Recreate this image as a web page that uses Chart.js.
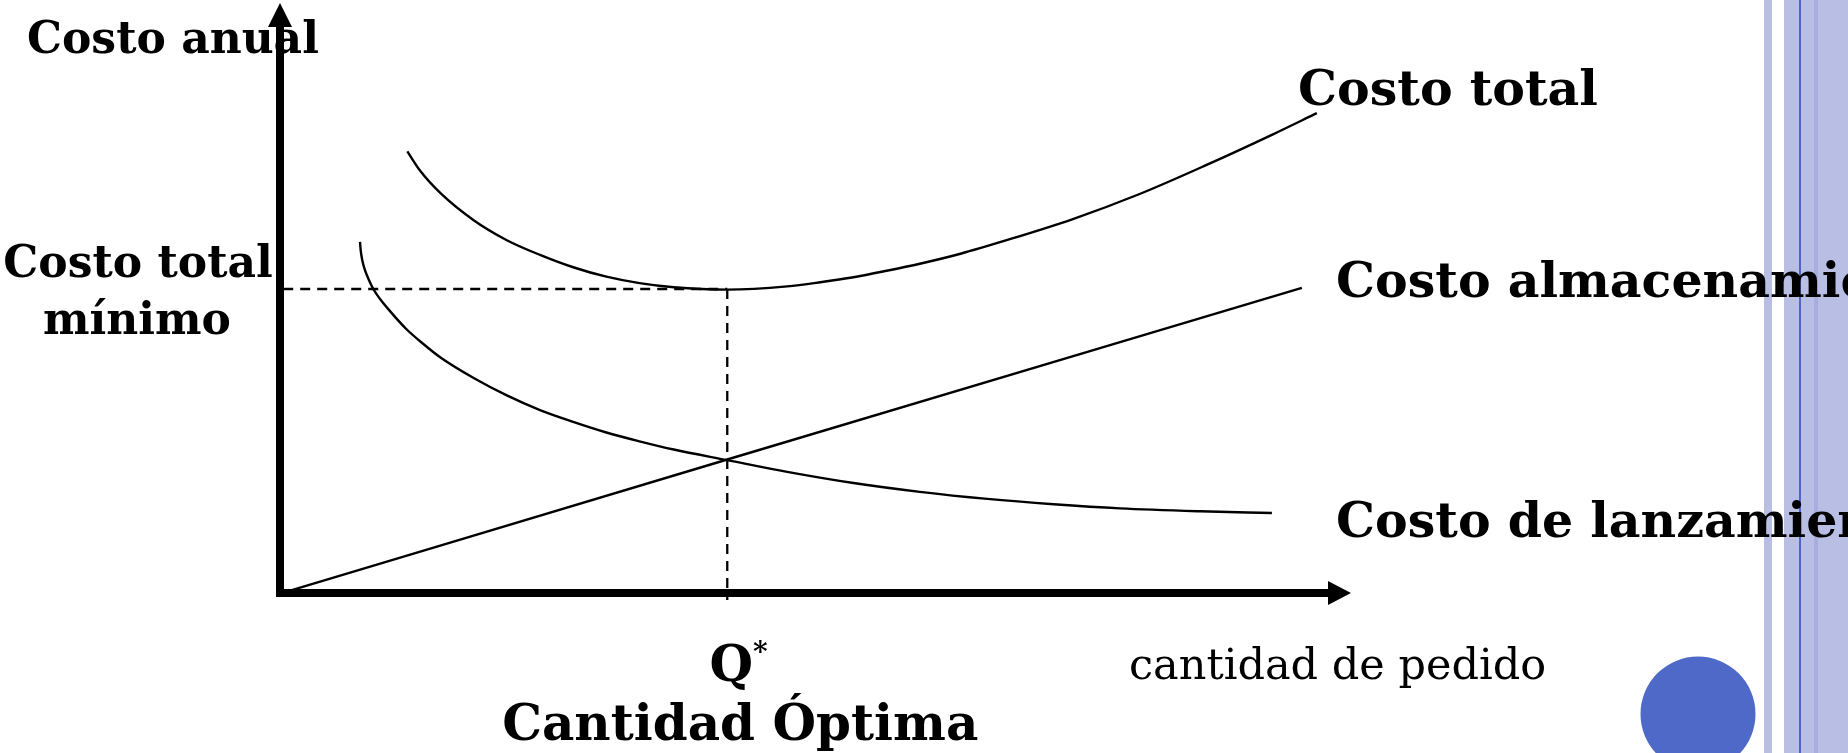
<!DOCTYPE html>
<html lang="es">
<head>
<meta charset="utf-8">
<title>Cantidad óptima de pedido</title>
<script src="https://cdn.jsdelivr.net/npm/chart.js@4.4.1/dist/chart.umd.min.js"></script>
<style>
  html, body { margin: 0; padding: 0; background: #ffffff; overflow: hidden; }
  #chart { display: block; }
</style>
</head>
<body>
<canvas id="chart" width="1848" height="753"></canvas>
<script>
// values (x: order quantity, y: annual cost, both 0..100)
const totalCostX = [11.9, 13.1, 15.0, 18.1, 21.2, 24.3, 27.4, 30.5, 33.6, 36.8, 41.8, 47.4, 50.5, 53.6, 56.7, 59.8, 63.6, 67.9, 74.1, 80.4, 86.6, 92.8, 96.9];
const totalCostY = [75.1, 71.8, 68.0, 63.4, 60.0, 57.5, 55.4, 53.8, 52.7, 52.0, 51.6, 52.15, 52.85, 53.7, 54.8, 56.0, 57.7, 60.0, 63.6, 67.9, 72.8, 78.0, 81.6];

const orderCostX = [7.48, 7.54, 7.69, 7.94, 8.32, 8.72, 9.35, 10.3, 11.8, 13.4, 15.0, 18.1, 21.2, 24.3, 27.4, 30.5, 33.6, 36.8, 41.8, 47.4, 53.6, 59.8, 66.1, 72.3, 78.5, 86.0, 92.7];
const orderCostY = [59.7, 58.3, 56.6, 54.9, 53.2, 51.7, 50.0, 47.9, 44.9, 42.35, 40.05, 36.56, 33.6, 31.1, 29.1, 27.3, 25.8, 24.4, 22.6, 20.6, 18.7, 17.2, 16.0, 15.1, 14.4, 13.9, 13.6];

const holdingCostX = [1.1, 41.8, 95.5];
const holdingCostY = [0.5, 22.7, 51.9];

const Q_STAR = 41.8;
const MIN_TOTAL_COST = 51.7;

const seriesLabels = ['Costo total', 'Costo almacenamiento', 'Costo de lanzamiento'];
const yAxisTitle = 'Costo anual';
const xAxisTitle = 'cantidad de pedido';
const minCostLabel = ['Costo total', 'mínimo'];
const qStarLabel = ['Q', '*', 'Cantidad Óptima'];

const INK = '#000000';
const CURVE_WIDTH = 2.4;
const AXIS_WIDTH = 8;
const SERIF = '"DejaVu Serif", "Liberation Serif", serif';

/**
 * Zips two arrays into {x, y} points.
 * @param {number[]} xs
 * @param {number[]} ys
 * @return {Object[]}
 */
function toPoints(xs, ys) {
  return xs.map((x, i) => ({x: x, y: ys[i]}));
}

function curve(label, xs, ys) {
  return {
    label: label,
    data: toPoints(xs, ys),
    borderColor: INK,
    borderWidth: CURVE_WIDTH,
    pointRadius: 0,
    cubicInterpolationMode: 'monotone',
    fill: false,
  };
}

function guide(label, xs, ys) {
  return {
    label: label,
    data: toPoints(xs, ys),
    borderColor: INK,
    borderWidth: 2.3,
    borderDash: [10, 7],
    pointRadius: 0,
    tension: 0,
    clip: false,
  };
}

// slide decoration on the right edge (stripes + circle), drawn behind everything
const slideBackground = {
  id: 'slideBackground',
  beforeDraw(chart) {
    const c = chart.ctx;
    c.save();
    c.fillStyle = '#b9bfe4';
    c.fillRect(1764, 0, 8, chart.height);
    c.fillRect(1784, 0, 64, chart.height);
    c.fillStyle = '#a7aedd';
    c.fillRect(1814, 0, 4, chart.height);
    c.fillStyle = '#4e64c6';
    c.fillRect(1799, 0, 2, chart.height);
    c.fillStyle = '#4f69c8';
    c.beginPath();
    c.arc(1698, 714, 57.5, 0, Math.PI * 2);
    c.fill();
    c.restore();
  },
};

// the two thick axes with arrow heads
const arrowAxes = {
  id: 'arrowAxes',
  afterDatasetsDraw(chart) {
    const c = chart.ctx;
    const xs = chart.scales.x;
    const ys = chart.scales.y;
    const x0 = xs.getPixelForValue(0);
    const y0 = ys.getPixelForValue(0);
    const xEnd = xs.getPixelForValue(100);
    const yTop = ys.getPixelForValue(100);
    c.save();
    c.strokeStyle = INK;
    c.fillStyle = INK;
    c.lineWidth = AXIS_WIDTH;
    c.lineCap = 'butt';
    c.beginPath();
    c.moveTo(x0, y0 + AXIS_WIDTH / 2);
    c.lineTo(x0, yTop + 18);
    c.moveTo(x0 - AXIS_WIDTH / 2, y0);
    c.lineTo(xEnd - 18, y0);
    c.stroke();
    c.beginPath();
    c.moveTo(x0, yTop - 2);
    c.lineTo(x0 - 12, yTop + 22);
    c.lineTo(x0 + 12, yTop + 22);
    c.closePath();
    c.moveTo(xEnd + 1, y0);
    c.lineTo(xEnd - 22, y0 - 12);
    c.lineTo(xEnd - 22, y0 + 12);
    c.closePath();
    c.fill();
    c.restore();
  },
};

// text annotations, anchored to the scales and the curve ends
const annotations = {
  id: 'annotations',
  afterDraw(chart) {
    const c = chart.ctx;
    const xs = chart.scales.x;
    const ys = chart.scales.y;
    const x0 = xs.getPixelForValue(0);
    const qx = xs.getPixelForValue(Q_STAR);
    const minY = ys.getPixelForValue(MIN_TOTAL_COST);
    c.save();
    c.fillStyle = INK;
    c.textBaseline = 'alphabetic';

    c.font = 'bold 44px ' + SERIF;
    c.textAlign = 'left';
    c.fillText(yAxisTitle, 27, 53);

    c.textAlign = 'center';
    c.fillText(minCostLabel[0], x0 - 142, minY - 12);
    c.fillText(minCostLabel[1], x0 - 143, minY + 45);

    c.font = 'bold 49px ' + SERIF;
    c.textAlign = 'left';
    const tcEnd = ys.getPixelForValue(totalCostY[totalCostY.length - 1]);
    c.fillText(seriesLabels[0], 1298, tcEnd - 8);
    const hcEnd = ys.getPixelForValue(holdingCostY[holdingCostY.length - 1]);
    c.fillText(seriesLabels[1], 1336, hcEnd + 9);
    const ocEnd = ys.getPixelForValue(orderCostY[orderCostY.length - 1]);
    c.fillText(seriesLabels[2], 1336, ocEnd + 24);

    c.font = 'bold 50px ' + SERIF;
    c.textAlign = 'center';
    c.fillText(qStarLabel[0], qx + 4, 681);
    c.fillText(qStarLabel[2], qx + 13, 740);
    c.font = 'bold 28px ' + SERIF;
    c.fillText(qStarLabel[1], qx + 33, 661);

    c.font = '43px ' + SERIF;
    c.textAlign = 'left';
    c.fillText(xAxisTitle, 1129, 679);
    c.restore();
  },
};

new Chart(document.getElementById('chart'), {
  type: 'line',
  data: {
    datasets: [
      curve(seriesLabels[0], totalCostX, totalCostY),
      curve(seriesLabels[2], orderCostX, orderCostY),
      curve(seriesLabels[1], holdingCostX, holdingCostY),
      guide('mínimo', [0.3, Q_STAR], [MIN_TOTAL_COST, MIN_TOTAL_COST]),
      guide('Q*', [Q_STAR, Q_STAR], [MIN_TOTAL_COST, -1.2]),
    ],
  },
  options: {
    responsive: false,
    animation: false,
    devicePixelRatio: 1,
    layout: {
      padding: {left: 280, right: 498, top: 5, bottom: 160},
    },
    plugins: {
      legend: {display: false},
      tooltip: {enabled: false},
    },
    scales: {
      x: {type: 'linear', min: 0, max: 100, display: false},
      y: {type: 'linear', min: 0, max: 100, display: false},
    },
  },
  plugins: [slideBackground, arrowAxes, annotations],
});
</script>
</body>
</html>
